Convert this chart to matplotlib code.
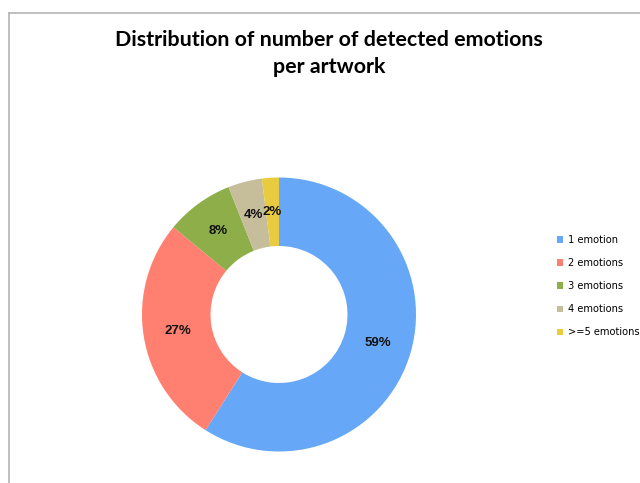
import matplotlib
matplotlib.use("Agg")
import matplotlib.pyplot as plt
from matplotlib.lines import Line2D
from matplotlib.patches import Patch

categories = ["1 emotion", "2 emotions", "3 emotions", "4 emotions", ">=5 emotions"]
values = [59, 27, 8, 4, 2]
colors = ["#66A8F7", "#FF8070", "#8DAE48", "#C6BE9A", "#E8CB3E"]
title = "Distribution of number of detected emotions\nper artwork"

W, H = 640, 483
fig = plt.figure(figsize=(W / 100, H / 100), dpi=100)

# frame lines
fig.add_artist(Line2D([8.5 / W, 8.5 / W], [0, 1 - 12.5 / H], color="#b4b4b4", lw=1.2))
fig.add_artist(Line2D([8.5 / W, 1], [1 - 12.5 / H, 1 - 12.5 / H], color="#b4b4b4", lw=1.2))

cx, cy, r = 279, 314.5, 137
ax = fig.add_axes([(cx - r) / W, (H - cy - r) / H, 2 * r / W, 2 * r / H])
wedges, texts, autotexts = ax.pie(
    values, colors=colors, startangle=90, counterclock=False,
    radius=1, wedgeprops=dict(width=0.5, linewidth=0),
    autopct="%1.0f%%", pctdistance=0.75,
    textprops=dict(family="Liberation Sans", fontweight="bold", fontsize=9.5, color="#111111"),
)
ax.set_xlim(-1, 1)
ax.set_ylim(-1, 1)
ax.axis("off")

fig.text(329 / W, 1 - 53.5 / H, title, ha="center", va="center", family="Lato",
         fontweight="bold", fontsize=15.4, linespacing=1.45)

handles = [Patch(facecolor=c, edgecolor="none") for c in colors]
fig.legend(handles, categories, loc="upper left", bbox_to_anchor=(553 / W, 1 - 231 / H),
           frameon=False, prop=dict(family="DejaVu Sans", size=7.1),
           handlelength=0.65, handleheight=0.65, handletextpad=0.45, labelspacing=1.33,
           borderaxespad=0, borderpad=0.4)

fig.savefig("out.png", dpi=100)
